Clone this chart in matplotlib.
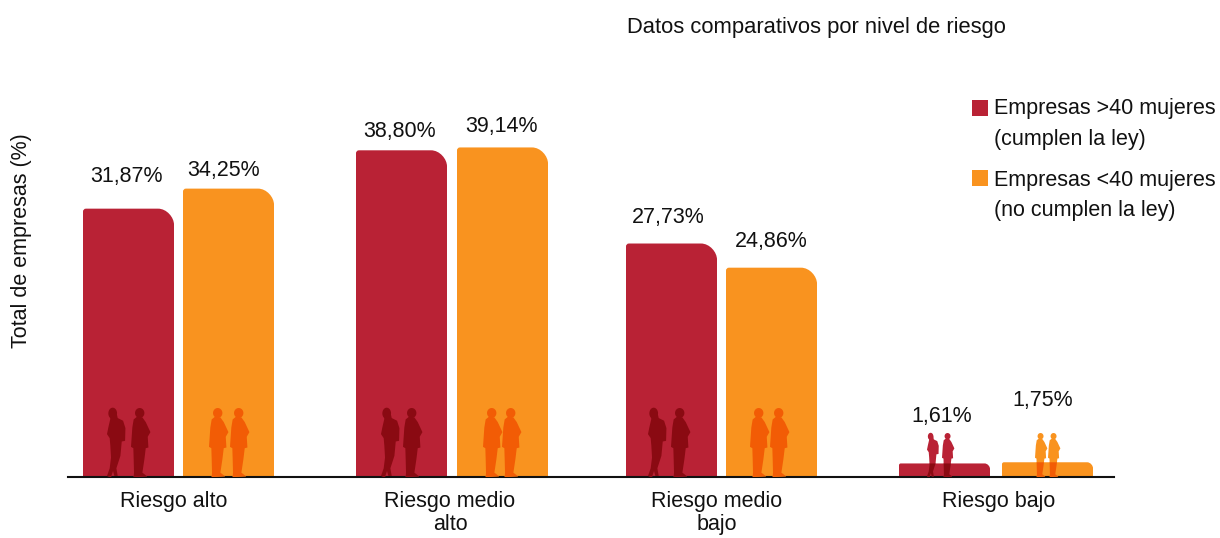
import numpy as np
import matplotlib
matplotlib.use("Agg")
import matplotlib.pyplot as plt
from matplotlib.path import Path
from matplotlib.patches import PathPatch, Rectangle

plt.rcParams['font.family'] = ['Liberation Sans', 'DejaVu Sans']

# --- data ---
categories = ["Riesgo alto", "Riesgo medio\nalto", "Riesgo medio\nbajo", "Riesgo bajo"]
series_above_40 = [31.87, 38.80, 27.73, 1.61]
series_below_40 = [34.25, 39.14, 24.86, 1.75]
series_names = ["Empresas >40 mujeres\n(cumplen la ley)", "Empresas <40 mujeres\n(no cumplen la ley)"]

# --- layout (pixel-based x scale, reference size) ---
W, H = 1220, 538
BASE = 477
PX_PER_UNIT = 8.42
BAR_W = 91
FS = 15.5
cat_x = [174, 450, 717, 999]
left_x_a = [83, 356, 626, 899]
left_x_b = [183, 457, 726, 1002]
label_dx_a = [-2.5, -2, -3.5, -2.5]
label_dx_b = [-5, -1, 0, -4.5]
label_dy_a = [32, 19, 26, 47]
label_dy_b = [18, 21, 26, 62]
people_a = [(107, 131, 69), (381, 403, 69), (648, 671, 69), (927, 942, 44)]
people_b = [(209, 230, 69), (483, 502, 69), (750, 770, 69), (1035, 1048, 44)]

RED, ORANGE = "#B92235", "#F9931F"
DARK_RED, DARK_ORANGE = "#8A0A12", "#F25C05"
TEXT = "#111111"

fig = plt.figure(figsize=(W / 100, H / 100), dpi=100, facecolor="white")
ax = fig.add_axes([68 / W, (H - BASE) / H, (1114 - 68) / W, BASE / H])
ax.set_xlim(68, 1114)
ax.set_ylim(0, BASE / PX_PER_UNIT)
ax.patch.set_alpha(0)
for s in ("top", "left", "right"):
    ax.spines[s].set_visible(False)
ax.spines["bottom"].set_linewidth(1.5)
ax.spines["bottom"].set_color(TEXT)
ax.set_yticks([])
ax.set_xticks(cat_x)
ax.set_xticklabels(categories, fontsize=FS, color=TEXT, linespacing=1.15)
ax.tick_params(axis="x", length=0, pad=10)
fig.text(21.5 / W, 1 - 241 / H, "Total de empresas (%)", rotation=90, ha="center", va="center",
         fontsize=FS, color=TEXT)
fig.text(627 / W, 1 - 28 / H, "Datos comparativos por nivel de riesgo", ha="left", va="center",
         fontsize=15.8, color=TEXT)


def top_rounded_bar(x, value, width, color):
    r_px = min(16, max(5, value * PX_PER_UNIT * 0.4))
    ry = r_px / PX_PER_UNIT
    k = 0.45
    l = min(3, r_px / 3)
    verts = [(x, 0), (x, value - l / PX_PER_UNIT), (x, value), (x + l, value),
             (x + width - r_px, value), (x + width - r_px * k, value), (x + width, value - ry * (1 - k)),
             (x + width, value - ry), (x + width, 0), (x, 0)]
    codes = [Path.MOVETO, Path.LINETO, Path.CURVE3, Path.CURVE3, Path.LINETO,
             Path.CURVE4, Path.CURVE4, Path.CURVE4, Path.LINETO, Path.CLOSEPOLY]
    patch = PathPatch(Path(verts, codes), facecolor=color, edgecolor="none", zorder=2)
    ax.add_patch(patch)
    return patch


# silhouette outlines in icon units (y down, feet at 258, head top at 52)
WOMAN_BODY = [(116, 64), (120, 84), (114, 110), (110, 130), (118, 142), (120, 165), (122, 200),
              (118, 232), (110, 255), (122, 258), (128, 240), (132, 255), (142, 255), (138, 232),
              (150, 195), (154, 152), (164, 150), (165, 112), (158, 90), (142, 82), (138, 64)]
WOMAN_HEAD = (127, 68, 13, 17)
MAN_BODY = [(200, 78), (190, 86), (186, 110), (182, 168), (189, 172), (190, 205), (191, 245),
            (190, 258), (230, 256), (216, 245), (222, 205), (226, 172), (234, 170), (232, 138),
            (240, 124), (226, 94), (216, 80)]
MAN_HEAD = (208, 67, 14, 15)


def silhouette(body, head, x, height, color, clip=None):
    x0 = min(p[0] for p in body)
    sc = height / 206
    conv = lambda px, py: (x + (px - x0) * sc, (258 - py) * sc / PX_PER_UNIT)
    t = np.linspace(0, 2 * np.pi, 33)
    head_pts = [conv(head[0] + head[2] * np.cos(a), head[1] + head[3] * np.sin(a)) for a in t]
    body_pts = [conv(px, py) for px, py in body]
    for pts in (body_pts + body_pts[:1], head_pts):
        p = PathPatch(Path(pts), facecolor=color, edgecolor="none", zorder=3 if clip is None else 4)
        ax.add_patch(p)
        if clip is not None:
            p.set_clip_path(clip)


for vals, lefts, dxs, dys, people, col, dark in (
    (series_above_40, left_x_a, label_dx_a, label_dy_a, people_a, RED, DARK_RED),
    (series_below_40, left_x_b, label_dx_b, label_dy_b, people_b, ORANGE, DARK_ORANGE),
):
    for v, x, dx, dy, (x1, x2, h) in zip(vals, lefts, dxs, dys, people):
        bar = top_rounded_bar(x, v, BAR_W, col)
        b1, h1 = (WOMAN_BODY, WOMAN_HEAD) if col == RED else (MAN_BODY, MAN_HEAD)
        silhouette(b1, h1, x1, h, col)
        silhouette(MAN_BODY, MAN_HEAD, x2, h, col)
        silhouette(b1, h1, x1, h, dark, clip=bar)
        silhouette(MAN_BODY, MAN_HEAD, x2, h, dark, clip=bar)
        ax.annotate(f"{v:.2f}%".replace(".", ","), (x + BAR_W / 2, v), xytext=(dx, dy),
                    textcoords="offset pixels", ha="center", va="center", fontsize=FS,
                    color=TEXT, annotation_clip=False)

# legend
for name, col, y, ty in ((series_names[0], RED, 100, 124), (series_names[1], ORANGE, 170, 195.5)):
    fig.add_artist(Rectangle((972 / W, 1 - (y + 16) / H), 16 / W, 16 / H, transform=fig.transFigure,
                             facecolor=col, edgecolor="none"))
    fig.text(994 / W, 1 - ty / H, name, ha="left", va="center", fontsize=FS,
             color=TEXT, linespacing=1.62)

fig.savefig("out.png", dpi=100, facecolor="white")
